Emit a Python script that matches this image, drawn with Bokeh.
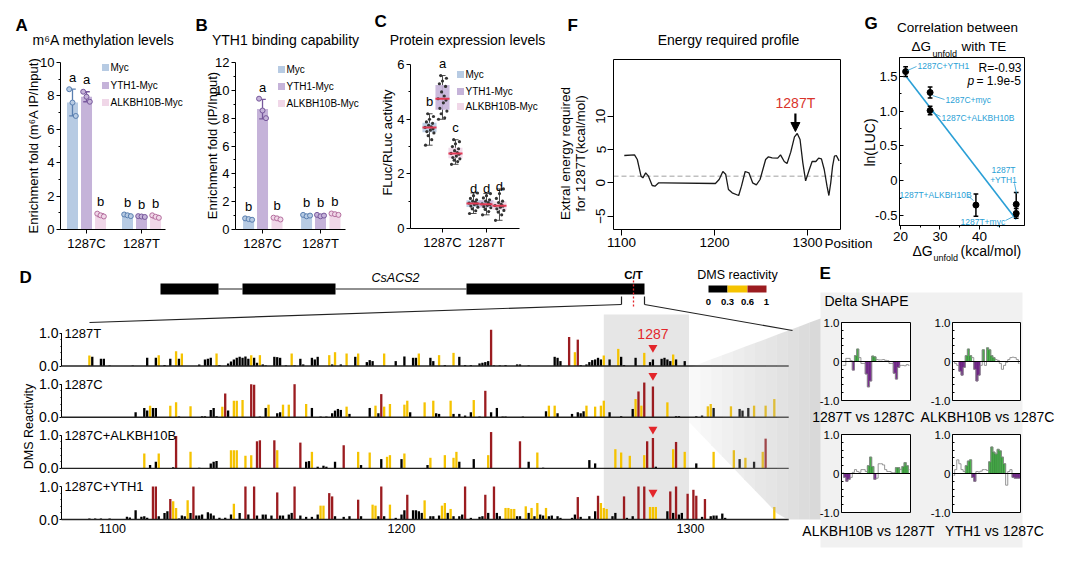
import numpy as np
from bokeh.plotting import figure
from bokeh.models import Range1d, FixedTicker, LinearAxis, Arrow, NormalHead, Grid
from bokeh.embed import file_html
from bokeh.resources import INLINE
from bokeh.core.properties import value

FONT = "Liberation Sans"

# ======================= DATA =======================
GROUPS = ["1287C", "1287T"]
SERIES = ["Myc", "YTH1-Myc", "ALKBH10B-Myc"]

# A: m6A enrichment (replicates) [1287C, 1287T]
A_myc = [[8.40, 7.60, 6.80], [0.90, 0.85, 0.80]]
A_yth1 = [[8.25, 7.95, 7.65], [0.80, 0.78, 0.75]]
A_alkb = [[0.95, 0.85, 0.78], [0.85, 0.76, 0.70]]
A_letters = [["a", "b"], ["a", "b"], ["b", "b"]]

# B: YTH1 binding enrichment
B_myc = [[0.80, 0.75, 0.70], [1.05, 0.95, 1.00]]
B_yth1 = [[9.40, 8.55, 8.00], [1.05, 0.95, 1.00]]
B_alkb = [[0.85, 0.80, 0.72], [1.15, 1.10, 1.05]]
B_letters = [["b", "b"], ["a", "b"], ["b", "b"]]

# C: FLuc/RLuc activity
C_myc = [[3.05, 3.25, 3.40, 3.50, 3.55, 3.60, 3.65, 3.70, 3.72, 3.78, 3.85, 3.90, 4.00, 4.10, 4.20],
         [0.55, 0.65, 0.72, 0.78, 0.82, 0.88, 0.90, 0.93, 0.97, 1.00, 1.05, 1.10, 1.20, 1.30]]
C_yth1 = [[4.00, 4.05, 4.20, 4.30, 4.40, 4.60, 4.70, 4.75, 4.85, 5.00, 5.20, 5.30, 5.40, 5.50, 5.60],
          [0.50, 0.62, 0.70, 0.76, 0.80, 0.85, 0.88, 0.90, 0.95, 1.00, 1.05, 1.12, 1.20, 1.28]]
C_alkb = [[2.35, 2.45, 2.50, 2.55, 2.60, 2.65, 2.72, 2.75, 2.78, 2.85, 2.92, 3.00, 3.10, 3.18, 3.25],
          [0.30, 0.50, 0.60, 0.66, 0.72, 0.78, 0.82, 0.84, 0.88, 0.95, 1.00, 1.10, 1.28, 1.45]]
C_letters = [["b", "d"], ["a", "d"], ["c", "d"]]
C_letter_y = [[4.65, 1.45], [6.05, 1.45], [3.70, 1.55]]

# F: extra energy profile
F_pos = [1103, 1114, 1117, 1121, 1123, 1126, 1129, 1133, 1136, 1140, 1145, 1201, 1205, 1209, 1212,
         1215, 1219, 1226, 1229, 1233, 1237, 1241, 1245, 1249, 1252, 1255, 1258, 1262, 1268, 1271,
         1275, 1278, 1282, 1286, 1289, 1292, 1295, 1298, 1302, 1305, 1309, 1312, 1315, 1318, 1321,
         1323, 1325, 1327, 1329, 1331, 1334]
F_val = [4.1, 4.2, 3.5, 1.0, 0.75, 1.5, 1.0, -0.4, -0.5, 0.0, 0.0, -0.1, 0.5, 1.7, 1.3,
         -1.0, -1.5, -1.9, -0.5, 1.7, 1.5, 0.0, -0.3, 0.5, 2.0, 3.5, 3.9, 3.75, 3.7, 4.2,
         3.2, 2.9, 4.6, 6.9, 7.4, 6.5, 3.0, 0.3, 2.0, 3.2, 3.2, 3.7, 3.6, 2.0, -0.5,
         -1.9, 0.0, 2.5, 4.0, 4.1, 3.3]
F_threshold = 1.0

# G: correlation
G_names = ["1287C+YTH1", "1287C+myc", "1287C+ALKBH10B", "1287T+ALKBH10B", "1287T+YTH1", "1287T+myc"]
G_dG = [21.3, 27.5, 27.5, 39.1, 49.3, 49.3]
G_lnLUC = [1.57, 1.27, 1.01, -0.35, -0.34, -0.47]
G_err = [0.07, 0.08, 0.06, 0.16, 0.17, 0.07]

# D: DMS reactivity tracks (position, reactivity)
TRACK_NAMES = ["1287T", "1287C", "1287C+ALKBH10B", "1287C+YTH1"]
T1 = [(1092, .32), (1093, .28), (1096, .22), (1097, .22), (1099, .02), (1107, .02), (1112, .25), (1115, .25),
      (1116, .33), (1118, .03), (1120, .22), (1122, .45), (1123, .22), (1124, .38), (1130, .05), (1132, .20),
      (1133, .22), (1134, .25), (1136, .38), (1137, .03), (1140, .08), (1141, .14), (1142, .20), (1143, .25),
      (1144, .28), (1145, .25), (1146, .29), (1147, .22), (1148, .33), (1149, .25), (1150, .10), (1151, .33),
      (1152, .05), (1153, .02), (1156, .28), (1157, .27), (1158, .25), (1160, .02), (1162, .38), (1163, .02),
      (1165, .22), (1166, .05), (1169, .25), (1170, .20), (1171, .28), (1175, .33), (1176, .05), (1177, .42),
      (1179, .05), (1181, .38), (1184, .28), (1185, .38), (1188, .12), (1189, .18), (1190, .15), (1194, .38),
      (1198, .15), (1201, .29), (1204, .25), (1205, .25), (1206, .38), (1210, .25), (1211, .15), (1213, .33),
      (1215, .03), (1218, .40), (1220, .28), (1222, .03), (1224, .03), (1227, .08), (1228, .10), (1229, .12),
      (1230, .15), (1231, 1.10), (1232, .02), (1234, .02), (1236, .03), (1240, .05), (1241, .05), (1244, .02),
      (1253, .28), (1254, .25), (1255, .15), (1258, .88), (1260, .42), (1261, .80), (1262, .03), (1264, .05),
      (1265, .12), (1266, .18), (1267, .20), (1268, .25), (1269, .20), (1270, .32), (1272, .20), (1275, .52),
      (1276, .28), (1277, .03), (1281, .25), (1284, .40), (1286, .12), (1287, .20), (1290, .22), (1291, .25),
      (1292, .20), (1293, .15), (1294, .35), (1295, .20), (1298, .15)]
T2 = [(1108, .15), (1111, .28), (1112, .20), (1113, .35), (1114, .28), (1115, .28), (1120, .35), (1122, .45),
      (1123, .02), (1127, .33), (1131, .03), (1132, .03), (1134, .22), (1135, .28), (1136, .03), (1138, .32),
      (1139, .72), (1140, .20), (1142, .50), (1143, .50), (1145, .52), (1148, 1.0), (1149, .98), (1151, .02),
      (1153, .28), (1154, .38), (1157, .12), (1158, .15), (1159, .38), (1161, .38), (1163, 1.0), (1167, .40),
      (1169, .28), (1172, .02), (1174, .02), (1176, .12), (1177, .20), (1178, .25), (1179, .22), (1181, .32),
      (1182, .10), (1189, .28), (1191, .35), (1192, .12), (1193, .70), (1194, .32), (1196, .40), (1201, .38),
      (1202, .50), (1203, .15), (1208, .45), (1211, .50), (1212, .12), (1213, .10), (1217, .50), (1218, .10),
      (1220, .10), (1222, .05), (1224, .15), (1225, .52), (1227, .02), (1229, .80), (1231, .15), (1233, .28),
      (1235, .02), (1236, .02), (1242, .02), (1250, .18), (1251, .35), (1253, .35), (1254, .12), (1259, .10),
      (1261, .15), (1262, .12), (1263, .18), (1264, .35), (1267, .32), (1269, .35), (1270, .50), (1272, .15),
      (1276, .03), (1280, .25), (1281, .55), (1282, .78), (1283, .35), (1284, 1.05), (1287, .93), (1292, .45),
      (1295, .03), (1296, .03), (1302, .03), (1304, .05), (1306, .33), (1307, .40), (1308, .28), (1314, .33),
      (1317, .25), (1318, .20), (1320, .28), (1322, .35), (1326, .35), (1329, .55)]
T3 = [(1111, .45), (1113, .10), (1115, .20), (1116, .45), (1121, .03), (1122, .98), (1127, .50), (1130, .02),
      (1134, .15), (1135, .20), (1136, .22), (1141, .55), (1142, .55), (1143, .55), (1146, .38), (1148, .40),
      (1150, .82), (1151, .85), (1156, .85), (1157, .55), (1165, .78), (1167, .20), (1168, .22), (1169, .50),
      (1171, .05), (1173, .08), (1174, .05), (1177, .20), (1180, .70), (1185, .50), (1186, .10), (1189, .48),
      (1193, .28), (1195, .35), (1196, .40), (1200, .28), (1201, .45), (1209, .10), (1210, .32), (1215, .40),
      (1218, .32), (1219, .50), (1220, .20), (1225, .28), (1230, .40), (1231, 1.10), (1241, .82), (1244, .20),
      (1247, .48), (1249, .02), (1265, .25), (1267, .15), (1274, .58), (1276, .48), (1279, .38), (1284, .40),
      (1285, .82), (1287, .92), (1288, .05), (1294, .58), (1295, .80), (1298, .50), (1302, .15), (1308, .50),
      (1315, .55), (1317, .28), (1319, .32), (1322, .20), (1325, .50), (1326, .90)]
T4 = [(1092, .03), (1094, .03), (1096, .03), (1099, .03), (1105, .08), (1106, .06), (1108, .28), (1110, .08),
      (1111, .10), (1112, .05), (1114, 1.0), (1115, 1.0), (1116, .10), (1118, .20), (1119, .25), (1120, .62),
      (1121, .55), (1122, .35), (1123, .03), (1124, .12), (1125, .10), (1126, .58), (1127, .20), (1128, 1.0),
      (1129, .12), (1130, .12), (1131, .15), (1133, .22), (1134, .18), (1135, .12), (1137, .05), (1139, .05),
      (1141, .15), (1142, .48), (1144, .20), (1146, 1.0), (1147, .15), (1149, 1.0), (1150, .12), (1152, .15),
      (1153, .15), (1155, .12), (1157, .82), (1158, .12), (1159, .12), (1161, .15), (1162, .20), (1163, 1.0),
      (1165, .12), (1167, .08), (1169, .08), (1171, .15), (1172, .42), (1173, .42), (1175, .80), (1176, .70),
      (1177, .10), (1180, .08), (1182, .10), (1185, .60), (1186, .10), (1190, .45), (1191, .42), (1192, .10),
      (1193, 1.0), (1194, .10), (1196, .45), (1198, .05), (1200, .15), (1201, .28), (1202, .75), (1204, .28),
      (1205, .28), (1206, .25), (1207, .20), (1208, .58), (1210, .10), (1211, .10), (1213, .12), (1214, .42),
      (1215, .50), (1216, .20), (1217, .32), (1218, .10), (1220, .10), (1221, .15), (1222, 1.0), (1224, .05),
      (1227, .08), (1228, .10), (1229, .75), (1230, .20), (1232, 1.0), (1233, .20), (1234, .10), (1236, .35),
      (1237, .35), (1238, .32), (1239, .32), (1240, .10), (1241, .10), (1243, .40), (1244, .20), (1245, .35),
      (1246, .10), (1247, .50), (1248, .15), (1249, .12), (1250, .35), (1251, .10), (1252, .12), (1254, .10),
      (1255, .05), (1259, .05), (1260, .15), (1261, .68), (1262, .08), (1265, .10), (1267, .25), (1268, .72),
      (1269, .50), (1270, .35), (1271, .32), (1273, .10), (1274, .20), (1277, .70), (1278, .05), (1280, .10),
      (1282, 1.0), (1284, 1.0), (1286, .38), (1287, .38), (1288, .38), (1292, .25), (1293, .85), (1294, .20),
      (1295, 1.0), (1296, .15), (1297, .20), (1299, .78), (1301, .90), (1302, .72), (1304, .08), (1305, .62),
      (1307, .10), (1308, .12), (1309, .12), (1311, .18), (1312, .05), (1329, .38)]
SITE = 1287
WINDOW = (1270, 1299.5)

# E: delta SHAPE in the window
E_pos = list(range(1268, 1300))
E1 = [-0.10, -0.10, 0.08, 0.08, 0.02, -0.22, 0.15, 0.32, 0.10, -0.05, -0.05, -0.32, -0.65, -0.50, 0.14, 0.12,
      0.05, 0.04, 0.04, 0.05, 0.03, 0.02, -0.05, -0.05, -0.30, -0.45, -0.15, -0.10, -0.10, -0.11, -0.08, -0.10]
E1_sig = [0, 0, 0, 0, 0, 1, 1, 1, 0, 0, 0, 1, 1, 1, 1, 1, 0, 0, 0, 0, 0, 0, 0, 0, 1, 1, 1, 0, 0, 0, 0, 0]
E2 = [0.00, -0.05, -0.10, -0.25, -0.35, -0.15, 0.15, 0.32, 0.15, 0.10, -0.20, -0.50, -0.35, -0.10, 0.30, -0.10,
      0.35, 0.30, 0.15, 0.10, 0.05, 0.03, -0.05, -0.20, -0.10, -0.02, 0.05, 0.10, 0.11, 0.10, 0.05, -0.05]
E2_sig = [0, 0, 0, 1, 1, 1, 1, 1, 1, 0, 1, 1, 1, 0, 1, 0, 1, 1, 1, 1, 0, 0, 0, 0, 0, 0, 0, 0, 0, 0, 0, 0]
E3 = [0.02, -0.10, -0.20, -0.15, -0.10, 0.03, 0.10, 0.05, 0.03, 0.10, 0.10, 0.05, 0.20, 0.42, 0.18, -0.15,
      -0.12, 0.25, 0.25, 0.22, 0.10, 0.05, 0.05, 0.02, 0.02, 0.15, 0.15, 0.10, 0.18, 0.28, 0.20, 0.10]
E3_sig = [0, 1, 1, 1, 0, 0, 0, 0, 0, 0, 0, 0, 1, 1, 1, 1, 0, 0, 0, 0, 0, 0, 0, 0, 0, 1, 1, 0, 1, 1, 1, 0]
E4 = [-0.05, 0.10, 0.35, 0.25, 0.10, 0.05, 0.20, 0.32, 0.35, -0.10, -0.20, 0.05, 0.04, 0.06, 0.10, 0.10,
      0.08, 0.30, 0.68, 0.55, 0.50, 0.62, 0.58, 0.42, 0.25, -0.30, 0.05, 0.10, -0.10, -0.12, -0.12, -0.12]
E4_sig = [0, 0, 0, 0, 0, 0, 1, 1, 1, 1, 1, 0, 0, 0, 0, 0, 0, 1, 1, 1, 1, 1, 1, 1, 1, 0, 0, 0, 1, 1, 1, 1]
E_titles = ["1287T vs 1287C", "ALKBH10B vs 1287C", "ALKBH10B vs 1287T", "YTH1 vs 1287C"]

# ======================= STYLE =======================
FILLS = ["#b7cbe3", "#c5b3d9", "#f0d7e8"]
EDGES = ["#5a7fb0", "#77589c", "#b56f9f"]
DMS_COLORS = ["#000000", "#f5c300", "#9b1c20"]
BLUE = "#2a9fd6"
RED = "#e3262b"
EGRAY = "#f1f1f1"
DOT_JIT = [-0.06, 0.0, 0.06]
C_JIT = [-0.09, 0.05, -0.03, 0.10, -0.06, 0.02, 0.08, -0.10, 0.04, -0.02, 0.07, -0.07, 0.0, 0.09, -0.04]

# ======================= CANVAS =======================
# one canvas; the default ranges are page pixels (y measured from the bottom: 576 - page_y)
p = figure(width=1064, height=560, x_range=Range1d(8, 1072), y_range=Range1d(8, 568),
           x_axis_location=None, y_axis_location=None, title=None, toolbar_location=None,
           output_backend="svg", min_border=0)
p.min_border_left = p.min_border_right = p.min_border_top = p.min_border_bottom = 0
p.outline_line_color = None
for g in list(p.select(type=Grid)):
    g.visible = False

XR, YR = {}, {}


def panel(name, fl, fr, ft, fb, x0, x1, y0, y1):
    """data range (x0..x1, y0..y1) shown in page frame [fl,fr] x [ft,fb]"""
    sx = (x1 - x0) / (fr - fl)
    sy = (y1 - y0) / (fb - ft)
    XR[name] = Range1d(x0 - (fl - 8) * sx, x1 + (1072 - fr) * sx)
    YR[name] = Range1d(y0 - (568 - fb) * sy, y1 + (ft - 8) * sy)
    return {"x_range_name": name, "y_range_name": name}


DX0 = 1100 - 51 / 2.89
KA = panel("A", 68, 190, 70, 237, 0.527, 2.745, 0, 10)
KB = panel("B", 243, 380, 70, 237, 0.534, 2.897, 0, 12)
KC = panel("C", 418, 560, 62, 236, 0.273, 3.5, 0, 6.37)
KF = panel("F", 621, 848, 67, 237, 1091.4, 1335.5, -7.0, 18.5)
KG = panel("G", 907, 1032, 65, 233, 19.75, 51.4, -0.644, 1.773)
KD = panel("D", 69, 806, 270, 527, DX0, 1100 + 686 / 2.89, 0, 257 / 33)
E_FRAMES = [(849, 918, 330, 408), (960, 1028, 330, 408), (849, 918, 442, 520), (960, 1028, 442, 520)]
KE = [panel(f"E{i}", *fr, E_pos[0] - 0.5, E_pos[-1] + 0.5, -1, 1) for i, fr in enumerate(E_FRAMES)]
p.extra_x_ranges = XR
p.extra_y_ranges = YR


def Y(py):
    return 576 - py


def T(x, py, s, size=13, color="black", align="left", baseline="middle", style="normal", angle=0.0):
    p.text(x=[x], y=[Y(py)], text=[s], text_font=value(FONT), text_font_size=f"{size}px", text_color=color,
           text_align=align, text_baseline=baseline, text_font_style=style, angle=angle)


def TT(xs, pys, ss, size=13, color="black", align="left", baseline="middle", style="normal"):
    p.text(x=list(xs), y=[Y(v) for v in pys], text=list(ss), text_font=value(FONT), text_font_size=f"{size}px",
           text_color=color, text_align=align, text_baseline=baseline, text_font_style=style)


def SEG(x0, py0, x1, py1, color="black", width=1.0, dash="solid"):
    p.segment(x0=list(x0), y0=[Y(v) for v in py0], x1=list(x1), y1=[Y(v) for v in py1],
              line_color=color, line_width=width, line_dash=dash)


def BOX(l, r, pt, pb, fill=None, line=None, lw=1.0, alpha=1.0):
    p.quad(left=[l], right=[r], top=[Y(pt)], bottom=[Y(pb)], fill_color=fill, fill_alpha=alpha,
           line_color=line, line_width=lw)


def axis(side, k, fixed, ticks, minor=(), overrides=None, bounds=None, size=13, out=4, inn=0, mout=2, minn=0,
         standoff=2, line=True, orient=None):
    ax = LinearAxis(ticker=FixedTicker(ticks=list(ticks), minor_ticks=list(minor)), fixed_location=fixed, **k)
    if overrides:
        ax.major_label_overrides = overrides
    if bounds:
        ax.bounds = bounds
    if orient:
        ax.major_label_orientation = orient
    ax.major_label_text_font = FONT
    ax.major_label_text_font_size = f"{size}px"
    ax.major_label_text_color = "black"
    ax.axis_line_color = "black" if line else None
    ax.major_tick_line_color = "black"
    ax.minor_tick_line_color = "black" if minor else None
    ax.major_tick_out, ax.major_tick_in = out, inn
    ax.minor_tick_out, ax.minor_tick_in = mout, minn
    ax.major_label_standoff = standoff
    p.add_layout(ax, side)


# ---------------- backgrounds (panel E box, drawn first) ----------------
BOX(828, 1030, 300, 555, fill=EGRAY)


# ---------------- A & B ----------------
def bar_panel(k, data, letters, offs, bw, pad, xr0, axis_end, yticks, yminor, ymax, lx, lys):
    for i, reps in enumerate(data):
        xs, mu, lo, hi, dx, dy = [], [], [], [], [], []
        for g in range(2):
            v = np.array(reps[g], float)
            m, sd = v.mean(), v.std(ddof=1)
            x = g + 1 + offs[i]
            xs.append(x); mu.append(m); lo.append(m - sd); hi.append(m + sd)
            for j, val in enumerate(reps[g]):
                dx.append(x + DOT_JIT[j]); dy.append(val)
        p.vbar(x=xs, top=mu, width=bw, fill_color=FILLS[i], line_color=None, **k)
        p.segment(x0=xs, y0=lo, x1=xs, y1=hi, line_color=EDGES[i], line_width=1.3, **k)
        cw = bw * 0.3
        p.segment(x0=[x - cw for x in xs] * 2, y0=lo + hi, x1=[x + cw for x in xs] * 2, y1=lo + hi,
                  line_color=EDGES[i], line_width=1.3, **k)
        p.scatter(x=dx, y=dy, marker="circle", size=5, fill_color=FILLS[i], line_color=EDGES[i], line_width=1, **k)
        p.text(x=xs, y=[h + pad for h in hi], text=letters[i], text_font=value(FONT), text_font_size="13px",
               text_align="center", text_baseline="middle", **k)
    axis("left", k, xr0, yticks, yminor, bounds=(0, ymax))
    axis("below", k, 0, [1, 2], overrides={1: GROUPS[0], 2: GROUPS[1]}, bounds=(xr0, axis_end))
    p.scatter(x=[lx] * 3, y=[Y(v) for v in lys], marker="square", size=7, fill_color=FILLS, line_color=None)
    TT([lx + 5] * 3, lys, SERIES, size=10)


bar_panel(KA, [A_myc, A_yth1, A_alkb], A_letters, [-0.255, 0.0, 0.255], 0.2, 0.72, 0.527, 2.436,
          [0, 2, 4, 6, 8, 10], [1, 3, 5, 7, 9], 10, 113, [75, 93, 110])
T(23, 33, "A", 17, style="bold")
T(111, 47, "m\u2076A methylation levels", 14, align="center")
T(41, 153, "Enrichment fold (m\u2076A IP/Input)", 13, align="center", angle=np.pi / 2)

bar_panel(KB, [B_myc, B_yth1, B_alkb], B_letters, [-0.24, 0.0, 0.25], 0.19, 0.86, 0.534, 2.43,
          [0, 2, 4, 6, 8, 10, 12], [1, 3, 5, 7, 9, 11], 12, 289, [77, 94, 111])
T(203, 33, "B", 17, style="bold")
T(293, 47, "YTH1 binding capability", 14, align="center")
T(220, 153, "Enrichment fold (IP/Input)", 13, align="center", angle=np.pi / 2)

# ---------------- C ----------------
C_OFFS = [-0.295, 0.0, 0.295]
BW = 0.32
for i, reps in enumerate([C_myc, C_yth1, C_alkb]):
    xs, q1s, meds, q3s, los, his, dx, dy = [], [], [], [], [], [], [], []
    for g in range(2):
        v = np.array(reps[g], float)
        q1, med, q3 = np.percentile(v, [25, 50, 75])
        x = g + 1 + C_OFFS[i]
        xs.append(x); q1s.append(q1); meds.append(med); q3s.append(q3); los.append(v.min()); his.append(v.max())
        for j, val in enumerate(reps[g]):
            dx.append(x + C_JIT[j % len(C_JIT)]); dy.append(val)
    p.segment(x0=xs, y0=los, x1=xs, y1=his, line_color="#4d4d4d", line_width=1, **KC)
    p.segment(x0=[x - 0.07 for x in xs] * 2, y0=los + his, x1=[x + 0.07 for x in xs] * 2, y1=los + his,
              line_color="#4d4d4d", line_width=1, **KC)
    p.quad(left=[x - BW / 2 for x in xs], right=[x + BW / 2 for x in xs], bottom=q1s, top=q3s,
           fill_color=FILLS[i], fill_alpha=0.9, line_color=None, **KC)
    p.scatter(x=dx, y=dy, marker="circle", size=3.2, fill_color="#333333", line_color=None, **KC)
    p.segment(x0=[x - BW / 2 for x in xs], y0=meds, x1=[x + BW / 2 for x in xs], y1=meds,
              line_color="#e23a55", line_width=2, **KC)
    p.text(x=xs, y=C_letter_y[i], text=C_letters[i], text_font=value(FONT), text_font_size="13px",
           text_align="center", text_baseline="middle", **KC)
axis("left", KC, 0.273, [0, 2, 4, 6], [1, 3, 5], bounds=(0, 6))
axis("below", KC, 0, [1, 2], overrides={1: GROUPS[0], 2: GROUPS[1]}, bounds=(0.273, 2.75))
p.scatter(x=[468] * 3, y=[Y(v) for v in [82, 99, 114]], marker="square", size=7, fill_color=FILLS, line_color=None)
TT([473] * 3, [82, 99, 114], SERIES, size=10)
T(382, 29, "C", 17, style="bold")
T(475, 47, "Protein expression levels", 14, align="center")
T(395, 150, "FLuc/RLuc activity", 13, align="center", angle=np.pi / 2)

# ---------------- F ----------------
p.segment(x0=[1091.4], y0=[F_threshold], x1=[1335.5], y1=[F_threshold], line_color="#a0a0a0",
          line_dash="5 3", line_width=1, **KF)
p.line(F_pos, F_val, line_color="#1a1a1a", line_width=1.3, **KF)
p.add_layout(Arrow(end=NormalHead(size=9, fill_color="black", line_color="black"), x_start=SITE, y_start=10.4,
                   x_end=SITE, y_end=7.7, line_width=2.2, line_color="black", **KF))
p.text(x=[SITE], y=[12.0], text=["1287T"], text_font=value(FONT), text_font_size="14px", text_color="#d9342b",
       text_align="center", text_baseline="middle", **KF)
BOX(621, 848, 67, 237, line="black", lw=1)
axis("left", KF, 1091.4, [-5, 0, 5, 10], bounds=(-5, 10), size=13.5, out=6, orient="vertical")
axis("below", KF, -7.0, [1100, 1200, 1300], bounds=(1100, 1300), size=13.5, out=6)
T(575, 33, "F", 17, style="bold")
T(736, 47, "Energy required profile", 14, align="center")
T(573, 161, "Extral energy required", 13.5, align="center", angle=np.pi / 2)
T(588, 161, "for 1287T(kcal/mol)", 13.5, align="center", angle=np.pi / 2)
T(832, 251, "Position", 13.5)

# ---------------- G ----------------
slope, icpt = np.polyfit(G_dG, G_lnLUC, 1)
gx0, gx1 = min(G_dG), max(G_dG)
p.line([gx0, gx1], [slope * gx0 + icpt, slope * gx1 + icpt], line_color=BLUE, line_width=1.6, **KG)
glo = [y - e for y, e in zip(G_lnLUC, G_err)]
ghi = [y + e for y, e in zip(G_lnLUC, G_err)]
p.segment(x0=G_dG, y0=glo, x1=G_dG, y1=ghi, line_color="black", line_width=1.5, **KG)
p.segment(x0=[x - 0.6 for x in G_dG] * 2, y0=glo + ghi, x1=[x + 0.6 for x in G_dG] * 2, y1=glo + ghi,
          line_color="black", line_width=1.5, **KG)
p.scatter(G_dG, G_lnLUC, marker="circle", size=6, fill_color="black", line_color="black", **KG)
TT([925, 953, 949, 907, 968], [73, 107, 125, 202, 229],
   [G_names[0], G_names[1], G_names[2], G_names[3], G_names[5]], size=8.5, color=BLUE)
TT([1011, 1011], [177, 187], ["1287T", "+YTH1"], size=8.5, color=BLUE, align="center")
SEG([915, 940, 940, 1022, 975, 1013], [78, 103, 120, 191, 203, 228],
    [924, 952, 948, 1024, 981, 1021], [74, 107, 124, 201, 208, 224], color=BLUE, width=0.8)
T(986, 75, "R=-0.93", 12)
T(975, 88, "p", 12, style="italic")
T(984, 88, "= 1.9e-5", 12)
BOX(907, 1032, 65, 233, line="black", lw=1)
axis("left", KG, 19.75, [-0.5, 0, 0.5, 1.0, 1.5], [-0.25, 0.25, 0.75, 1.25],
     overrides={-0.5: "-0.5", 0: "0", 0.5: "0.5", 1: "1.0", 1.5: "1.5"}, bounds=(-0.644, 1.773),
     size=13, out=0, inn=4, mout=0, minn=2, standoff=2)
axis("below", KG, -0.644, [20, 30, 40], [25, 35, 45], bounds=(19.75, 51.4), size=13.5, out=4, standoff=2)
T(872, 31, "G", 17, style="bold")
T(965, 35, "Correlation between", 13.5, align="center")
T(919, 54, "\u0394G", 13.5)
T(940, 61, "unfold", 9)
T(969, 54, "with TE", 13.5)
T(877, 150, "ln(LUC)", 14, align="center", angle=np.pi / 2)
T(920, 258, "\u0394G", 14)
T(941, 265, "unfold", 9)
T(968, 258, "(kcal/mol)", 14)

# ---------------- D ----------------
OFFS = [4.65, 3.10, 1.55, 0.0]
TRI_Y = [0.56, 1.26, 1.18, 0.82]
p.quad(left=[WINDOW[0]], right=[WINDOW[1]], bottom=[0], top=[6.21], fill_color="#e6e6e6", line_color=None, **KD)


def dms_color(v):
    return DMS_COLORS[0] if v < 0.3 else (DMS_COLORS[1] if v < 0.6 else DMS_COLORS[2])


for o, tr in zip(OFFS, [T1, T2, T3, T4]):
    xs = [t[0] for t in tr]
    vs = [t[1] for t in tr]
    p.vbar(x=xs, bottom=o, top=[o + v for v in vs], width=0.8, fill_color=[dms_color(v) for v in vs],
           line_color=None, **KD)
p.segment(x0=[DX0] * 4, y0=OFFS, x1=[1334] * 4, y1=OFFS, line_color="#222222", line_width=1.4, **KD)
p.segment(x0=[DX0] * 4, y0=OFFS, x1=[DX0] * 4, y1=[o + 1 for o in OFFS], line_color="black", line_width=1, **KD)
# fading wedge toward panel E (pixel space)
N = 12
wx, wy, wa = [], [], []
for kk in range(N):
    xa = 697 + (828 - 697) * kk / N
    xb = 697 + (828 - 697) * (kk + 1) / N
    top = lambda x: 375 + (326 - 375) * (x - 697) / (828 - 697)
    bot = lambda x: 430 + (566 - 430) * (x - 697) / (828 - 697)
    wx.append([xa, xb, xb, xa])
    wy.append([Y(top(xa)), Y(top(xb)), Y(min(bot(xb), 527)), Y(min(bot(xa), 527))])
    wa.append(0.08 + 0.40 * kk / (N - 1))
p.patches(xs=wx, ys=wy, fill_color="#b0b0b0", fill_alpha=wa, line_color=None)
p.text(x=[DX0 + 1.0] * 4, y=[o + 1 for o in OFFS], text=TRACK_NAMES, text_font=value(FONT), text_font_size="13px",
       text_align="left", text_baseline="middle", **KD)
p.scatter(x=[SITE] * 4, y=[o + t for o, t in zip(OFFS, TRI_Y)], marker="inverted_triangle", size=9,
          fill_color=RED, line_color=None, **KD)
p.text(x=[SITE], y=[OFFS[0] + 0.96], text=["1287"], text_font=value(FONT), text_font_size="14px",
       text_color=RED, text_align="center", text_baseline="middle", **KD)
ticks, minors, overrides = [], [], {}
for o in OFFS:
    ticks += [o, o + 1]
    overrides[o] = "0.0"
    overrides[o + 1] = "1.0"
    minors += [o + 0.2, o + 0.4, o + 0.6, o + 0.8]
axis("left", KD, DX0, sorted(ticks), sorted(minors), overrides=overrides, size=14, out=2, mout=1, standoff=1,
     line=False)
axis("below", KD, 0, [1100, 1200, 1300], size=12.5, out=0, standoff=4, line=False)
# gene model (schematic, pixel space)
for l, r in [(168, 226), (250, 343), (474, 652)]:
    BOX(l, r, 291, 302, fill="black")
SEG([226, 343, 629, 652, 629, 652], [296.5, 296.5, 304, 304, 312, 312],
    [250, 474, 629, 652, 97, 800], [296.5, 296.5, 312, 312, 330, 338], color="#222222", width=1.2)
SEG([641], [288], [641], [314], color=RED, width=1.3, dash="2 2")
T(403, 285, "CsACS2", 12.5, align="center", style="italic")
T(641, 282, "C/T", 11.5, align="center", style="bold")
for (l, r), c in zip([(716, 735), (735, 755), (755, 774)], DMS_COLORS):
    BOX(l, r, 293, 300, fill=c)
T(745, 282, "DMS reactivity", 12.5, align="center")
TT([716, 735, 755, 774], [309] * 4, ["0", "0.3", "0.6", "1"], size=9.5, align="center", style="bold")
T(27, 285, "D", 17, style="bold")
T(36, 434, "DMS Reactivity", 12.5, align="center", angle=np.pi / 2)

# ---------------- E ----------------
T(827, 281, "E", 17, style="bold")
T(832, 308, "Delta SHAPE", 14)
for k, fr, vals, sig in zip(KE, E_FRAMES, [E1, E2, E3, E4], [E1_sig, E2_sig, E3_sig, E4_sig]):
    BOX(fr[0], fr[1], fr[2], fr[3], fill="white")
    sx = [x for x, s in zip(E_pos, sig) if s]
    sv = [v for v, s in zip(vals, sig) if s]
    p.quad(left=[x - 0.5 for x in sx], right=[x + 0.5 for x in sx], bottom=0, top=sv,
           fill_color=["#4cb14d" if v > 0 else "#7b2f92" for v in sv],
           line_color=["#2e7d32" if v > 0 else "#5a1d6e" for v in sv], line_width=0.6, **k)
    p.step(x=E_pos, y=vals, mode="center", line_color="#8a8a8a", line_width=0.9, **k)
    p.segment(x0=[E_pos[0] - 0.5], y0=[0], x1=[E_pos[-1] + 0.5], y1=[0], line_color="black", line_width=1.2, **k)
    BOX(fr[0], fr[1], fr[2], fr[3], line="black", lw=1)
    axis("left", k, E_pos[0] - 0.5, [-1, 0, 1], [-0.8, -0.6, -0.4, -0.2, 0.2, 0.4, 0.6, 0.8],
         overrides={-1: "-1.0", 0: "0", 1: "1.0"}, size=11.5, out=0, inn=3, mout=0, minn=2, standoff=2, line=False)
TT([871, 995], [424, 424], E_titles[:2], size=14, align="center")
TT([876, 1002], [538, 538], E_titles[2:], size=14, align="center")

open("out.html", "w").write(file_html(p, INLINE, title="figure"))
